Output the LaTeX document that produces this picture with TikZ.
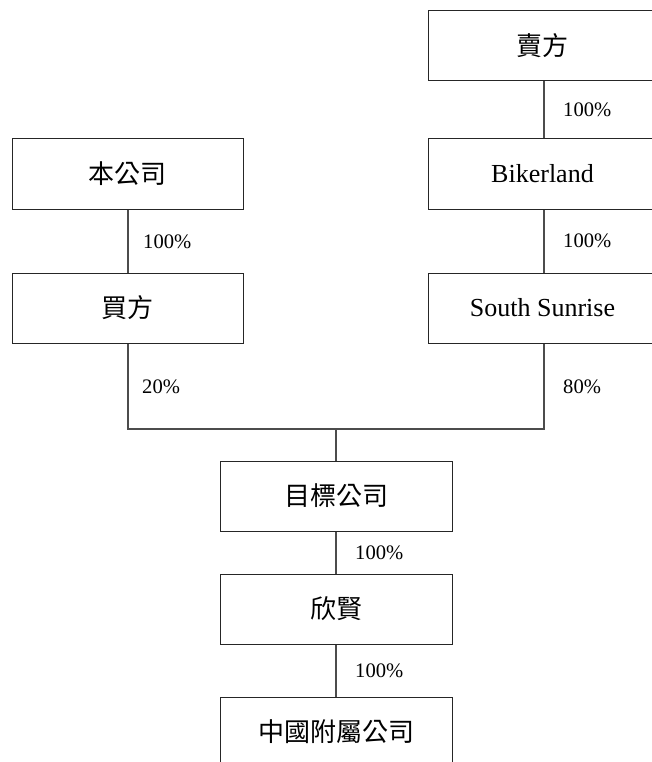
\documentclass[tikz,border=0pt]{standalone}
\usepackage{fontspec}
\setmainfont{Liberation Serif}
\newfontfamily\cjk{Noto Sans CJK TC}
\begin{document}
\begin{tikzpicture}[x=1pt,y=-1pt,
  entity/.style={draw=black!85,line width=1pt,rectangle,inner sep=0pt,
    minimum height=70pt,font=\fontsize{26}{30}\selectfont},
  leftbox/.style={entity,minimum width=231pt},
  rightbox/.style={entity,minimum width=229pt},
  midbox/.style={entity,minimum width=232pt},
  link/.style={draw=black!70,line width=1.2pt},
  pct/.style={anchor=west,inner sep=0pt,font=\fontsize{20.6}{24}\selectfont}]
\useasboundingbox[fill=white] (0,0) rectangle (652,762);
% boxes
\node[rightbox] (seller) at (542.5,46) {\cjk 賣方};
\node[leftbox] (company) at (127.5,174) {\cjk 本公司};
\node[rightbox] (bikerland) at (542.5,174) {Bikerland};
\node[leftbox] (buyer) at (127.5,308) {\cjk 買方};
\node[rightbox] (sunrise) at (542.5,308) {South Sunrise};
\node[midbox] (target) at (336,496) {\cjk 目標公司};
\node[midbox] (xinxian) at (336,609) {\cjk 欣賢};
\node[midbox] (china) at (336,732) {\cjk 中國附屬公司};
% connectors
\draw[link] (seller.south -| 544,0) -- (bikerland.north -| 544,0);
\draw[link] (bikerland.south -| 544,0) -- (sunrise.north -| 544,0);
\draw[link] (company.south -| 128,0) -- (buyer.north -| 128,0);
\coordinate (junction) at (336,429);
\draw[link] (buyer.south -| 128,0) |- (junction) -| (sunrise.south -| 544,0);
\draw[link] (junction) -- (target.north);
\draw[link] (target.south) -- (xinxian.north);
\draw[link] (xinxian.south) -- (china.north);
% labels
\node[pct] (p1) at (563,110) {100\%};
\node[pct] (p2) at (563,241) {100\%};
\node[pct] (p3) at (143,242) {100\%};
\node[pct] (p4) at (142,387) {20\%};
\node[pct] (p5) at (563,387) {80\%};
\node[pct] (p6) at (355,553) {100\%};
\node[pct] (p7) at (355,671) {100\%};
\end{tikzpicture}
\end{document}
